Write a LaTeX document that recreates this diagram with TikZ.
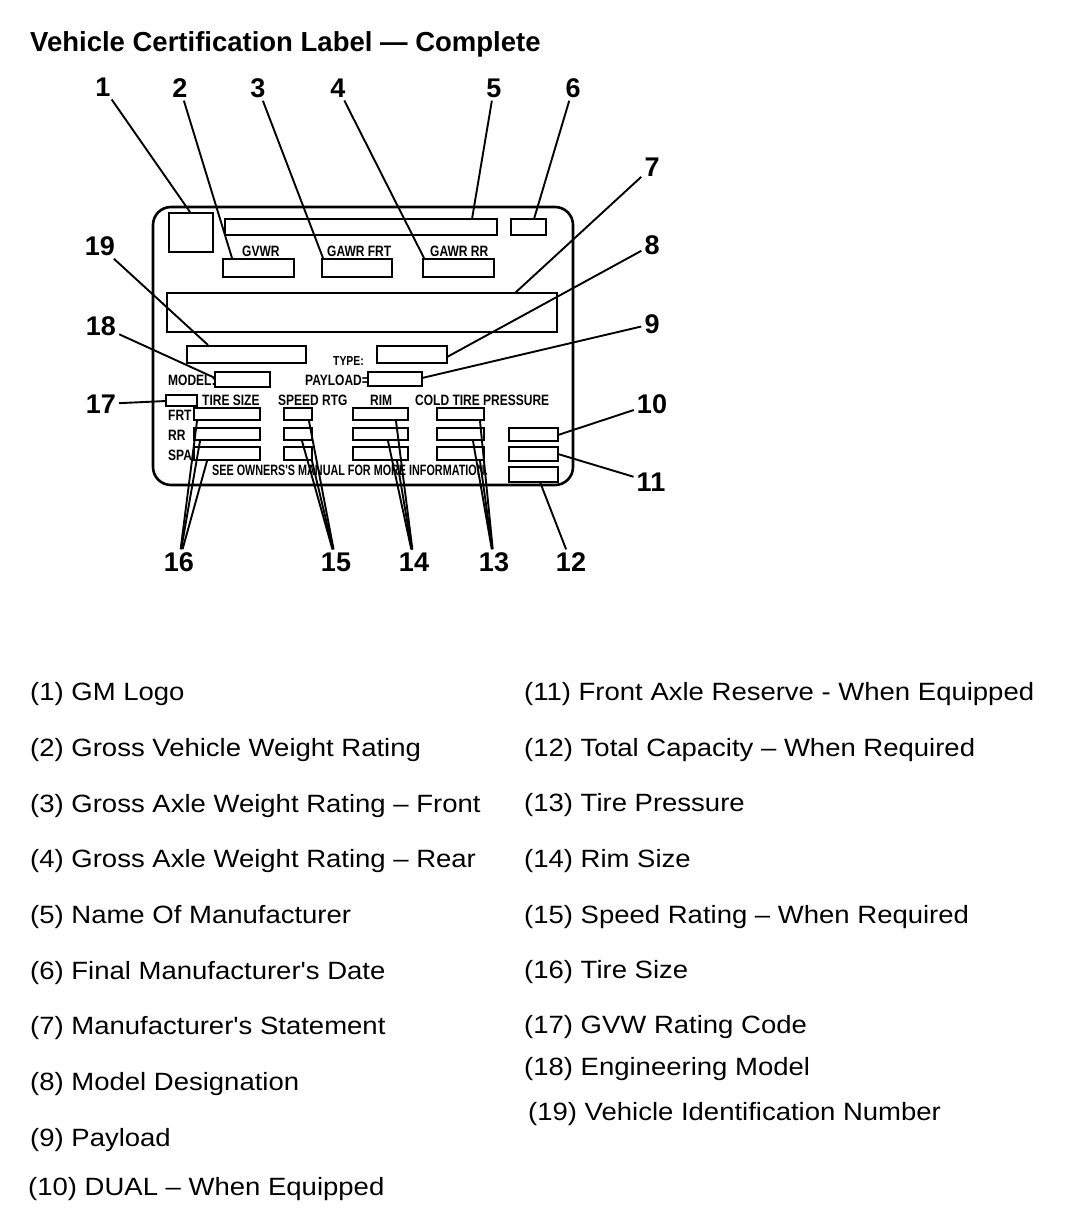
\documentclass[tikz,border=0pt]{standalone}
\usepackage{fontspec}
\setmainfont{Liberation Sans}
\newfontfamily\legfam[FakeStretch=1.1]{Liberation Sans}
\newfontfamily\labfam[FakeStretch=0.8]{Liberation Sans}
\newfontfamily\footfam[FakeStretch=0.72]{Liberation Sans}
\usetikzlibrary{fit}
\tikzset{
  box/.style={draw, line width=2.8pt, inner sep=0pt, outer sep=0pt},
  lead/.style={line width=1.9pt},
  num/.style={font=\fontsize{27}{30}\selectfont\bfseries, inner sep=3pt},
  lab/.style={font=\labfam\fontsize{15}{17}\selectfont\bfseries, inner sep=0pt, anchor=base west},
  smlab/.style={font=\labfam\fontsize{13}{15}\selectfont\bfseries, inner sep=0pt, anchor=base west},
  footlab/.style={font=\footfam\fontsize{15}{17}\selectfont\bfseries, inner sep=0pt, anchor=base west},
  leg/.style={font=\legfam\fontsize{25}{28}\selectfont, inner sep=0pt, anchor=base west},
}
\begin{document}
\begin{tikzpicture}[x=1pt,y=-1pt]
\useasboundingbox[fill=white] (0,0) rectangle (1088,1220);

% title
\node[font=\fontsize{27.5}{30}\selectfont\bfseries, inner sep=0pt, anchor=base west] (title) at (30,52) {Vehicle Certification Label — Complete};

% outer label
\node[box, line width=2.6pt, rounded corners=18pt, fit={(153,207) (573,485)}] (outer) {};

% boxes
\node[box, fit={(169,213) (213,252)}] (logo) {};
\node[box, fit={(225,219) (497,235)}] (maker) {};
\node[box, fit={(511,219) (546,235)}] (date) {};
\node[box, fit={(223,259) (294,277)}] (gvwr) {};
\node[box, fit={(322,259) (392,277)}] (gfrt) {};
\node[box, fit={(423,259) (494,277)}] (grr) {};
\node[box, fit={(167,293) (557,332)}] (stmt) {};
\node[box, fit={(187,346) (306,363)}] (vin) {};
\node[box, fit={(377,346) (447,363)}] (typebox) {};
\node[box, fit={(215,372) (270,387)}] (model) {};
\node[box, fit={(368,372) (422,386)}] (payload) {};
\node[box, fit={(166,395) (197,406)}] (gvwcode) {};
\foreach \r/\ya/\yb in {1/408/420, 2/428/440, 3/447/460}{
  \node[box, fit={(194,\ya) (260,\yb)}] (ts\r) {};
  \node[box, fit={(284,\ya) (312,\yb)}] (sp\r) {};
  \node[box, fit={(353,\ya) (408,\yb)}] (rim\r) {};
  \node[box, fit={(437,\ya) (484,\yb)}] (pr\r) {};
}
\node[box, fit={(509,428) (558,441)}] (dual) {};
\node[box, fit={(509,447) (558,461)}] (fax) {};
\node[box, fit={(509,467) (558,482)}] (cap) {};

% printed labels
\node[lab] (lgvwr) at (242,256) {GVWR};
\node[lab] (lgfrt) at (327,256) {GAWR FRT};
\node[lab] (lgrr) at (430,256) {GAWR RR};
\node[smlab] (ltype) at (333,365) {TYPE:};
\node[lab] (lmodel) at (168,385) {MODEL:};
\node[lab] (lpay) at (305,385) {PAYLOAD=};
\node[lab] (lts) at (202,405) {TIRE SIZE};
\node[lab] (lsp) at (278,405) {SPEED RTG};
\node[lab] (lrim) at (370,405) {RIM};
\node[lab] (lpr) at (415,405) {COLD TIRE PRESSURE};
\node[lab] (lfrt) at (168,420) {FRT};
\node[lab] (lrr) at (168,440) {RR};
\node[lab] (lspa) at (168,460) {SPA};
\node[footlab] (lfoot) at (212,475) {SEE OWNERS'S MANUAL FOR MORE INFORMATION.};

% callout numbers
\node[num] (n1) at (103,87) {1};
\node[num] (n2) at (180,88) {2};
\node[num] (n3) at (258,88) {3};
\node[num] (n4) at (338,88) {4};
\node[num] (n5) at (494,88) {5};
\node[num] (n6) at (573,88) {6};
\node[num] (n7) at (652,167) {7};
\node[num] (n8) at (652,245) {8};
\node[num] (n9) at (652,324) {9};
\node[num] (n10) at (652,404) {10};
\node[num] (n11) at (651,482) {11};
\node[num] (n12) at (571,562) {12};
\node[num] (n13) at (494,562) {13};
\node[num] (n14) at (414,562) {14};
\node[num] (n15) at (336,562) {15};
\node[num] (n16) at (179,562) {16};
\node[num] (n17) at (101,404) {17};
\node[num] (n18) at (101,326) {18};
\node[num] (n19) at (100,246) {19};

% leader end points
\coordinate (e1) at (190,212);
\coordinate (e2) at (232,258);
\coordinate (e3) at (323,258);
\coordinate (e4) at (424,258);
\coordinate (e5) at (472,219);
\coordinate (e6) at (534,219);
\coordinate (e7) at (515,293);
\coordinate (e8) at (447,357);
\coordinate (e9) at (422,378);
\coordinate (e10) at (558,435);
\coordinate (e11) at (558,454);
\coordinate (e12) at (540,482);
\coordinate (e17) at (166,401);
\coordinate (e18) at (215,378);
\coordinate (e19) at (208,345);
\coordinate (e16a) at (197,421);
\coordinate (e16b) at (200,441);
\coordinate (e16c) at (207,461);
\coordinate (e15a) at (309,421);
\coordinate (e15b) at (302,441);
\coordinate (e15c) at (312,461);
\coordinate (e14a) at (396,421);
\coordinate (e14b) at (388,441);
\coordinate (e14c) at (397,461);
\coordinate (e13a) at (480,421);
\coordinate (e13b) at (473,441);
\coordinate (e13c) at (480,461);

% leaders
\foreach \i in {1,...,12,17,18,19}{
  \draw[lead] (n\i) -- (e\i);
}
\foreach \i in {13,14,15,16}{
  \foreach \s in {a,b,c}{
    \draw[lead] (n\i) -- (e\i\s);
  }
}

% legend
\node[leg] (k1) at (30,700) {(1) GM Logo};
\node[leg] (k2) at (30,756) {(2) Gross Vehicle Weight Rating};
\node[leg] (k3) at (30,812) {(3) Gross Axle Weight Rating – Front};
\node[leg] (k4) at (30,867) {(4) Gross Axle Weight Rating – Rear};
\node[leg] (k5) at (30,923) {(5) Name Of Manufacturer};
\node[leg] (k6) at (30,979) {(6) Final Manufacturer's Date};
\node[leg] (k7) at (30,1034) {(7) Manufacturer's Statement};
\node[leg] (k8) at (30,1090) {(8) Model Designation};
\node[leg] (k9) at (30,1146) {(9) Payload};
\node[leg] (k10) at (28,1195) {(10) DUAL – When Equipped};
\node[leg] (k11) at (524,700) {(11) Front Axle Reserve - When Equipped};
\node[leg] (k12) at (524,756) {(12) Total Capacity – When Required};
\node[leg] (k13) at (524,811) {(13) Tire Pressure};
\node[leg] (k14) at (524,867) {(14) Rim Size};
\node[leg] (k15) at (524,923) {(15) Speed Rating – When Required};
\node[leg] (k16) at (524,978) {(16) Tire Size};
\node[leg] (k17) at (524,1033) {(17) GVW Rating Code};
\node[leg] (k18) at (524,1075) {(18) Engineering Model};
\node[leg] (k19) at (528,1120) {(19) Vehicle Identification Number};
\end{tikzpicture}
\end{document}
